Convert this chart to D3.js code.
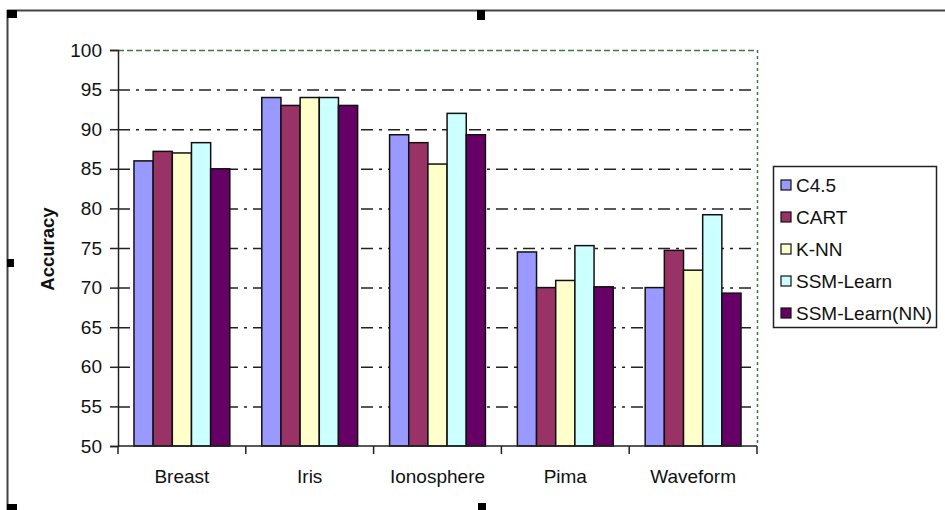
<!DOCTYPE html>
<html>
<head>
<meta charset="utf-8">
<script src="https://cdn.jsdelivr.net/npm/d3@7"></script>
<style>
  body { margin: 0; background: #fff; }
  svg { display: block; font-family: "Liberation Sans", Arial, sans-serif; }
</style>
</head>
<body>
<svg id="chart" width="945" height="510"></svg>
<script>
const datasets = ["Breast", "Iris", "Ionosphere", "Pima", "Waveform"];
const methods = ["C4.5", "CART", "K-NN", "SSM-Learn", "SSM-Learn(NN)"];
const colors = ["#9999ff", "#993366", "#ffffcc", "#ccffff", "#660066"];
const c45 = [86.0, 94.0, 89.3, 74.5, 70.0];
const cart = [87.2, 93.0, 88.3, 70.0, 74.7];
const knn = [87.0, 94.0, 85.6, 70.9, 72.2];
const ssm = [88.3, 94.0, 92.0, 75.3, 79.2];
const ssmNN = [85.0, 93.0, 89.3, 70.1, 69.3];
const yTicks = [50, 55, 60, 65, 70, 75, 80, 85, 90, 95, 100];

const series = [c45, cart, knn, ssm, ssmNN];

const svg = d3.select("#chart");
const W = 945, H = 510;
const plot = { left: 118, right: 757, top: 50, bottom: 446 };

// frame of the embedded object + selection handles
svg.append("line").attr("x1", 7).attr("x2", W).attr("y1", 10.5).attr("y2", 10.5).attr("stroke", "#444").attr("stroke-width", 2);
svg.append("line").attr("x1", 7.5).attr("x2", 7.5).attr("y1", 10).attr("y2", H).attr("stroke", "#444").attr("stroke-width", 2);
[[7, 10, 10, 8], [477, 10, 8, 10], [7, 259, 7, 8], [7, 504, 10, 6], [478, 503, 8, 7]].forEach(h => {
    svg.append("rect").attr("x", h[0]).attr("y", h[1]).attr("width", h[2]).attr("height", h[3]).attr("fill", "#000");
});

const x0 = d3.scaleBand().domain(datasets).range([plot.left, plot.right]).padding(0);
const x1 = d3.scaleBand().domain(methods).range([x0.bandwidth() * 0.125, x0.bandwidth() * 0.875]).padding(0);
const y = d3.scaleLinear().domain([50, 100]).range([plot.bottom, plot.top]);

// gridlines
svg.append("g").selectAll("line").data(yTicks.filter(t => t > 50 && t < 100)).join("line")
    .attr("x1", plot.left).attr("x2", plot.right)
    .attr("y1", d => y(d) + 0.5).attr("y2", d => y(d) + 0.5)
    .attr("stroke", "#222").attr("stroke-width", 1.5).attr("stroke-dasharray", "12,6,3,6");

// plot area border (top + right), green dashed
svg.append("line").attr("x1", plot.left).attr("x2", plot.right).attr("y1", y(100) + 0.5).attr("y2", y(100) + 0.5)
    .attr("stroke", "#3d7a3d").attr("stroke-width", 1.5).attr("stroke-dasharray", "6,3");
svg.append("line").attr("x1", plot.right + 0.5).attr("x2", plot.right + 0.5).attr("y1", plot.top).attr("y2", plot.bottom)
    .attr("stroke", "#3d7a3d").attr("stroke-width", 1.5).attr("stroke-dasharray", "3,3");

// bars
const groups = svg.append("g").selectAll("g").data(datasets).join("g")
    .attr("transform", d => `translate(${x0(d)},0)`);
groups.selectAll("rect").data((d, i) => methods.map((m, j) => ({ m: m, v: series[j][i], c: colors[j] }))).join("rect")
    .attr("x", d => x1(d.m))
    .attr("y", d => y(d.v))
    .attr("width", x1.bandwidth())
    .attr("height", d => y(50) - y(d.v))
    .attr("fill", d => d.c)
    .attr("stroke", "#111").attr("stroke-width", 1.5);

// axes
const yAxis = svg.append("g").attr("transform", `translate(${plot.left},0)`)
    .call(d3.axisLeft(y).tickValues(yTicks).tickSize(8).tickPadding(8));
yAxis.selectAll("text").attr("font-size", 19).attr("fill", "#111").attr("font-family", "Liberation Sans, Arial, sans-serif");
yAxis.selectAll("line, path").attr("stroke", "#222").attr("stroke-width", 1.5);

const xAxis = svg.append("g").attr("transform", `translate(0,${plot.bottom})`);
xAxis.append("line").attr("x1", plot.left).attr("x2", plot.right).attr("stroke", "#222").attr("stroke-width", 1.5);
xAxis.selectAll("line.tick").data(datasets.concat(["end"])).join("line").attr("class", "tick")
    .attr("x1", (d, i) => plot.left + i * x0.step()).attr("x2", (d, i) => plot.left + i * x0.step())
    .attr("y1", 0).attr("y2", 8).attr("stroke", "#222").attr("stroke-width", 1.5);
xAxis.selectAll("text").data(datasets).join("text")
    .attr("x", d => x0(d) + x0.bandwidth() / 2).attr("y", 37)
    .attr("text-anchor", "middle").attr("font-size", 19).attr("fill", "#111")
    .text(d => d);

svg.append("text")
    .attr("transform", "translate(54,249) rotate(-90)")
    .attr("text-anchor", "middle")
    .attr("font-size", 18.5).attr("font-weight", "bold").attr("fill", "#111")
    .text("Accuracy");

// legend
const legend = svg.append("g");
legend.append("rect").attr("x", 773.5).attr("y", 166.5).attr("width", 163).attr("height", 161)
    .attr("fill", "#fff").attr("stroke", "#222").attr("stroke-width", 1.5);
const items = legend.selectAll("g.item").data(methods).join("g").attr("class", "item")
    .attr("transform", (d, i) => `translate(781,${185 + i * 32})`);
items.append("rect").attr("x", 0).attr("y", -5).attr("width", 10).attr("height", 10)
    .attr("fill", (d, i) => colors[i]).attr("stroke", "#111").attr("stroke-width", 1.2);
items.append("text").attr("x", 15).attr("y", 7).attr("font-size", 19).attr("fill", "#111").text(d => d);
</script>
</body>
</html>
